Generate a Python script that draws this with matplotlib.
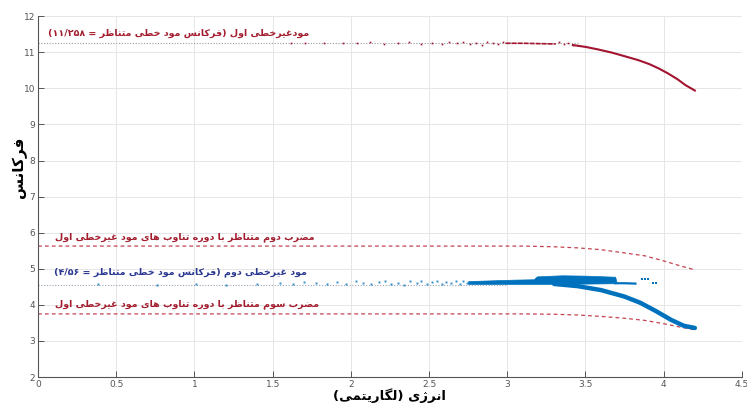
import numpy as np
import matplotlib
matplotlib.use("Agg")
import matplotlib.pyplot as plt

# ---- data ----
mode1_freq = 11.258
mode2_freq = 4.56

# first nonlinear mode: scattered points on the plateau, then the bending branch
m1_cloud_x = [1.62, 1.71, 1.83, 1.95, 2.04, 2.12, 2.21, 2.30, 2.37, 2.45, 2.52, 2.58,
              2.63, 2.68, 2.72, 2.76, 2.80, 2.84, 2.87, 2.91, 2.94, 2.97, 3.33, 3.36, 3.39, 3.42]
m1_cloud_y = [11.26, 11.27, 11.25, 11.27, 11.25, 11.28, 11.24, 11.26, 11.29, 11.24, 11.27, 11.22,
              11.28, 11.25, 11.29, 11.23, 11.27, 11.21, 11.29, 11.25, 11.22, 11.28, 11.29, 11.22, 11.27, 11.21]
m1_dense_x = [2.99, 3.10, 3.20, 3.31]
m1_dense_y = [11.25, 11.25, 11.24, 11.23]
m1_branch_x = [3.42, 3.50, 3.58, 3.67, 3.76, 3.84, 3.91, 3.97, 4.03, 4.09, 4.14, 4.20]
m1_branch_y = [11.20, 11.15, 11.08, 10.99, 10.88, 10.78, 10.67, 10.55, 10.41, 10.25, 10.09, 9.94]

# harmonics of the first mode period
h2_x = [0.0, 3.10, 3.30, 3.45, 3.60, 3.75, 3.88, 4.00, 4.10, 4.20]
h2_y = [5.63, 5.63, 5.61, 5.58, 5.53, 5.44, 5.36, 5.22, 5.09, 4.97]
h3_x = [0.0, 3.10, 3.30, 3.45, 3.60, 3.75, 3.88, 4.00, 4.10, 4.20]
h3_y = [3.75, 3.75, 3.74, 3.72, 3.68, 3.63, 3.57, 3.48, 3.39, 3.31]

# second nonlinear mode
m2_cloud_x = [0.38, 0.76, 1.01, 1.20, 1.40, 1.55, 1.63, 1.70, 1.78, 1.85, 1.91, 1.97,
              2.03, 2.08, 2.13, 2.18, 2.22, 2.26, 2.30, 2.34, 2.38, 2.42, 2.45, 2.49,
              2.52, 2.55, 2.58, 2.61, 2.64, 2.67, 2.70, 2.72, 2.74]
m2_cloud_y = [4.57, 4.55, 4.58, 4.56, 4.58, 4.62, 4.58, 4.64, 4.60, 4.57, 4.63, 4.59,
              4.65, 4.60, 4.57, 4.63, 4.66, 4.59, 4.62, 4.56, 4.65, 4.60, 4.67, 4.58,
              4.63, 4.66, 4.59, 4.64, 4.61, 4.67, 4.58, 4.65, 4.62]
m2_band_x = [2.75, 2.90, 3.05, 3.17, 3.19, 3.35, 3.50, 3.69, 3.70]
m2_band_lo = [4.58, 4.58, 4.58, 4.58, 4.58, 4.58, 4.59, 4.60, 4.60]
m2_band_hi = [4.66, 4.68, 4.70, 4.71, 4.79, 4.82, 4.81, 4.78, 4.62]
m2_tail_x = [3.69, 3.75, 3.82]
m2_tail_y = [4.60, 4.60, 4.59]
m2_blob_x = [3.86, 3.88, 3.90, 3.93, 3.95]
m2_blob_y = [4.72, 4.73, 4.72, 4.60, 4.61]
m2_branch_x = [3.30, 3.45, 3.60, 3.75, 3.85, 3.95, 4.05, 4.13, 4.20]
m2_branch_y = [4.58, 4.52, 4.41, 4.23, 4.06, 3.83, 3.58, 3.42, 3.36]

x_ticks = [0, 0.5, 1, 1.5, 2, 2.5, 3, 3.5, 4, 4.5]
x_tick_labels = ["0", "0.5", "1", "1.5", "2", "2.5", "3", "3.5", "4", "4.5"]
y_ticks = [2, 3, 4, 5, 6, 7, 8, 9, 10, 11, 12]

label_m1 = "مودغیرخطی اول (فرکانس مود خطی متناظر = ۱۱/۲۵۸)"
label_h2 = "مضرب دوم متناظر با دوره تناوب های مود غیرخطی اول"
label_m2 = "مود غیرخطی دوم (فرکانس مود خطی متناظر = ۴/۵۶)"
label_h3 = "مضرب سوم متناظر با دوره تناوب های مود غیرخطی اول"
x_label = "انرژی (لگاریتمی)"
y_label = "فرکانس"

# ---- persian shaping (matplotlib has no complex text layout) ----
FORMS = {
    "ا": ("\uFE8D", "\uFE8E", None, None),
    "ب": ("\uFE8F", "\uFE90", "\uFE91", "\uFE92"),
    "ت": ("\uFE95", "\uFE96", "\uFE97", "\uFE98"),
    "خ": ("\uFEA5", "\uFEA6", "\uFEA7", "\uFEA8"),
    "د": ("\uFEA9", "\uFEAA", None, None),
    "ر": ("\uFEAD", "\uFEAE", None, None),
    "ز": ("\uFEAF", "\uFEB0", None, None),
    "ژ": ("\uFB8A", "\uFB8B", None, None),
    "س": ("\uFEB1", "\uFEB2", "\uFEB3", "\uFEB4"),
    "ض": ("\uFEBD", "\uFEBE", "\uFEBF", "\uFEC0"),
    "ط": ("\uFEC1", "\uFEC2", "\uFEC3", "\uFEC4"),
    "ظ": ("\uFEC5", "\uFEC6", "\uFEC7", "\uFEC8"),
    "غ": ("\uFECD", "\uFECE", "\uFECF", "\uFED0"),
    "ف": ("\uFED1", "\uFED2", "\uFED3", "\uFED4"),
    "ک": ("\uFB8E", "\uFB8F", "\uFB90", "\uFB91"),
    "گ": ("\uFB92", "\uFB93", "\uFB94", "\uFB95"),
    "ل": ("\uFEDD", "\uFEDE", "\uFEDF", "\uFEE0"),
    "م": ("\uFEE1", "\uFEE2", "\uFEE3", "\uFEE4"),
    "ن": ("\uFEE5", "\uFEE6", "\uFEE7", "\uFEE8"),
    "ه": ("\uFEE9", "\uFEEA", "\uFEEB", "\uFEEC"),
    "و": ("\uFEED", "\uFEEE", None, None),
    "ی": ("\uFBFC", "\uFBFD", "\uFBFE", "\uFBFF"),
}
LTR_RUN = set("۰۱۲۳۴۵۶۷۸۹0123456789/.")
MIRROR = {"(": ")", ")": "("}


def shape(text):
    out = []
    for i, ch in enumerate(text):
        if ch not in FORMS:
            out.append(ch)
            continue
        prev = text[i - 1] if i > 0 else ""
        nxt = text[i + 1] if i + 1 < len(text) else ""
        joins_prev = prev in FORMS and FORMS[prev][2] is not None
        joins_next = nxt in FORMS and FORMS[ch][2] is not None
        iso, fin, ini, med = FORMS[ch]
        if joins_prev and joins_next:
            out.append(med)
        elif joins_prev:
            out.append(fin)
        elif joins_next:
            out.append(ini)
        else:
            out.append(iso)
    # visual order: right-to-left, but keep number runs left-to-right
    rev = "".join(out)[::-1]
    res, run = [], ""
    for ch in rev:
        if ch in LTR_RUN:
            run += ch
        else:
            res.append(run[::-1])
            run = ""
            res.append(MIRROR.get(ch, ch))
    res.append(run[::-1])
    return "".join(res)


plt.rcParams["font.family"] = ["DejaVu Sans"]

red = "#a2142f"
blue = "#0072bd"
dash_red = "#c2434f"

fig = plt.figure(figsize=(7.47, 4.05), dpi=100)
ax = fig.add_axes([0.051, 0.069, 0.942, 0.891])

# linear-mode reference lines
ax.plot([0, 3.45], [mode1_freq, mode1_freq], color="#9a9a9a", lw=0.8, ls=(0, (1, 1.5)))
ax.plot([0, 3.0], [mode2_freq, mode2_freq], color="#9aa6b8", lw=0.8, ls=(0, (1, 1.5)))

# harmonics
ax.plot(h2_x, h2_y, color=dash_red, lw=0.9, ls=(0, (3, 2.5)))
ax.plot(h3_x, h3_y, color=dash_red, lw=0.9, ls=(0, (3, 2.5)))

# first mode
ax.plot(m1_cloud_x, m1_cloud_y, ls="none", marker="s", ms=1.2, color=red, mew=0)
ax.plot(m1_dense_x, m1_dense_y, color=red, lw=1.2, ls=(0, (3, 0.6)))
ax.plot(m1_branch_x, m1_branch_y, color=red, lw=1.5)

# second mode
ax.plot(m2_cloud_x, m2_cloud_y, ls="none", marker="s", ms=1.4, color=blue, mew=0, alpha=0.8)
ax.fill_between(m2_band_x, m2_band_lo, m2_band_hi, color=blue, lw=0.5)
ax.plot(m2_tail_x, m2_tail_y, color=blue, lw=1.6)
ax.plot(m2_blob_x, m2_blob_y, ls="none", marker="s", ms=2, color=blue, mew=0)
ax.plot(m2_branch_x, m2_branch_y, color=blue, lw=3.2, solid_capstyle="round")

# annotations
txt_kw = dict(fontsize=6.8, fontweight="bold", va="center", ha="left")
ax.text(0.064, 11.53, shape(label_m1), color="#a31d2e", **txt_kw)
ax.text(0.11, 5.88, shape(label_h2), color="#a31d2e", **txt_kw)
ax.text(0.10, 4.91, shape(label_m2), color="#2b3990", **txt_kw)
ax.text(0.11, 4.02, shape(label_h3), color="#a31d2e", **txt_kw)

ax.set_xlim(0, 4.5)
ax.set_ylim(2, 12)
ax.set_xticks(x_ticks)
ax.set_xticklabels(x_tick_labels)
ax.set_yticks(y_ticks)
ax.grid(True, color="#e6e6e6", lw=0.7)
ax.set_axisbelow(True)
for side in ("top", "right"):
    ax.spines[side].set_visible(False)
for side in ("left", "bottom"):
    ax.spines[side].set_color("#555555")
    ax.spines[side].set_linewidth(0.8)
ax.tick_params(direction="in", length=4, width=0.7, colors="#555555",
               labelsize=6.5, pad=2)

ax.set_xlabel(shape(x_label), fontsize=9.5, fontweight="bold")
ax.xaxis.set_label_coords(0.5, -0.031)
ax.xaxis.label.set_va("top")
ax.set_ylabel(shape(y_label), fontsize=11, fontweight="bold")
ax.yaxis.set_label_coords(-0.016, 0.58)

fig.savefig("out.png", dpi=100)
